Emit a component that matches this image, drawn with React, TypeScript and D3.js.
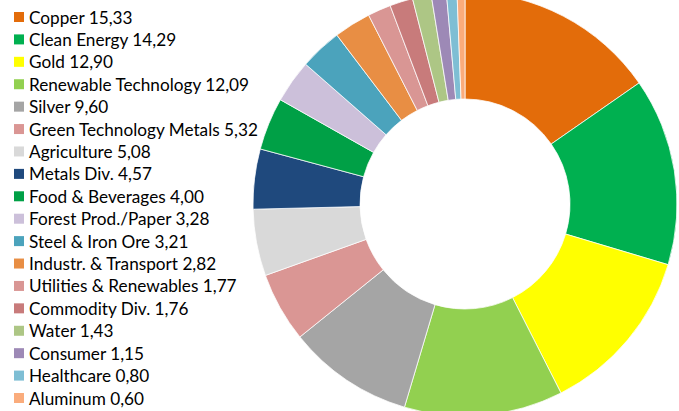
import React from "react";
import * as d3 from "d3";

const categories = [
  "Copper", "Clean Energy", "Gold", "Renewable Technology", "Silver",
  "Green Technology Metals", "Agriculture", "Metals Div.", "Food & Beverages",
  "Forest Prod./Paper", "Steel & Iron Ore", "Industr. & Transport",
  "Utilities & Renewables", "Commodity Div.", "Water", "Consumer",
  "Healthcare", "Aluminum",
];
const values = [15.33, 14.29, 12.9, 12.09, 9.6, 5.32, 5.08, 4.57, 4.0, 3.28, 3.21, 2.82, 1.77, 1.76, 1.43, 1.15, 0.8, 0.6];
const labels = ["15,33", "14,29", "12,90", "12,09", "9,60", "5,32", "5,08", "4,57", "4,00", "3,28", "3,21", "2,82", "1,77", "1,76", "1,43", "1,15", "0,80", "0,60"];
const colors = [
  "#E36C0A", "#00B050", "#FFFF00", "#92D050", "#A5A5A5", "#DA9694", "#D9D9D9",
  "#1F497D", "#00A046", "#CCC0DA", "#4BA3BC", "#E88E44", "#D99694", "#C87B7B",
  "#ADC685", "#9D89B6", "#7EBED4", "#FAAC7C",
];

const W = 679, H = 411;
const cx = 465, cy = 204, R = 212, r = 105;

export default function App() {
  const data = values.map((v, i) => ({ name: categories[i], value: v, label: labels[i], color: colors[i] }));
  const pie = d3.pie<any>().value((d) => d.value).sort(null);
  const arc = d3.arc<any>().innerRadius(r).outerRadius(R);
  const arcs = pie(data);
  const legendY = d3.scaleLinear().domain([0, categories.length - 1]).range([17, 398]);
  return (
    <svg width={W} height={H} style={{ position: "absolute", left: 0, top: 0, background: "#fff" }}>
      <g transform={`translate(${cx},${cy})`}>
        {arcs.map((a, i) => (
          <path key={i} d={arc(a) as string} fill={a.data.color} stroke="#fff" strokeWidth={0.75} />
        ))}
      </g>
      <g fontFamily="Lato, 'Open Sans', sans-serif" fontSize={17.2} fill="#000">
        {data.map((d, i) => (
          <g key={i} transform={`translate(0,${legendY(i)})`}>
            <rect x={14} y={-5} width={10} height={10} fill={d.color} />
            <text x={29} y={0} dominantBaseline="central">{`${d.name} ${d.label}`}</text>
          </g>
        ))}
      </g>
    </svg>
  );
}
